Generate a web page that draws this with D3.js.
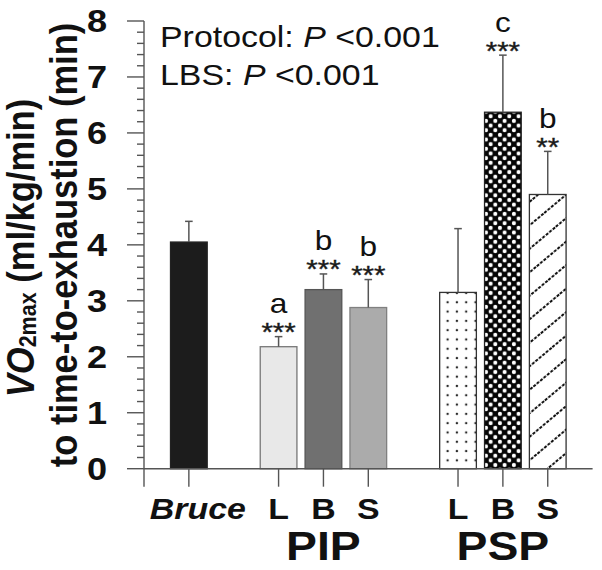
<!DOCTYPE html>
<html><head><meta charset="utf-8">
<script src="https://cdn.jsdelivr.net/npm/d3@7"></script>
<style>html,body{margin:0;padding:0;background:#fff}svg{display:block}</style>
</head><body><svg id="c" width="602" height="570"></svg>
<script>
// ---- data ----
const slots = ["Bruce","gap1","PIP-L","PIP-B","PIP-S","gap2","PSP-L","PSP-B","PSP-S"];
const barKeys = ["Bruce","PIP-L","PIP-B","PIP-S","PSP-L","PSP-B","PSP-S"];
const barLabels = ["Bruce","L","B","S","L","B","S"];
const means = [4.05, 2.18, 3.20, 2.88, 3.15, 6.37, 4.90];
const errs  = [0.37, 0.18, 0.28, 0.50, 1.14, 1.02, 0.77];
const letters = ["", "a", "b", "b", "", "c", "b"];
const stars = ["", "***", "***", "***", "", "***", "**"];
const groupLabels = ["PIP","PSP"];
const groupCenters = ["PIP-B","PSP-B"];
const yTicks = [0,1,2,3,4,5,6,7,8];
const statLines = [["Protocol: ","P"," <0.001"],["LBS: ","P"," <0.001"]];

// ---- layout ----
const svg = d3.select("#c");
const FONT = "'Liberation Sans', Arial, Helvetica, sans-serif";
const SX = 1.13;
const x = d3.scalePoint().domain(slots).range([144, 592.6]).padding(1);
const y = d3.scaleLinear().domain([0, 8]).range([468.7, 21]);
const bw = 36.7;

// patterns
const defs = svg.append("defs");
const pDots = defs.append("pattern").attr("id","dots").attr("patternUnits","userSpaceOnUse")
  .attr("width",9.3).attr("height",9.3).attr("x",443).attr("y",0);
pDots.append("rect").attr("width",9.3).attr("height",9.3).attr("fill","#fff");
pDots.append("circle").attr("cx",4.6).attr("cy",4.6).attr("r",1.2).attr("fill","#2a2a2a");
const pChk = defs.append("pattern").attr("id","chk").attr("patternUnits","userSpaceOnUse")
  .attr("width",9.3).attr("height",9.3).attr("x",486).attr("y",0);
pChk.append("rect").attr("width",9.3).attr("height",9.3).attr("fill","#050505");
[[0,0],[9.3,0],[0,9.3],[9.3,9.3],[4.65,4.65]].forEach(([cx,cy])=>
  pChk.append("circle").attr("cx",cx).attr("cy",cy).attr("r",2.05).attr("fill","#fff"));
const pHatch = defs.append("pattern").attr("id","hatch").attr("patternUnits","userSpaceOnUse")
  .attr("width",40).attr("height",18).attr("patternTransform","rotate(-40)");
pHatch.append("rect").attr("width",40).attr("height",18).attr("fill","#fff");
pHatch.append("line").attr("x1",0).attr("x2",40).attr("y1",9).attr("y2",9)
  .attr("stroke","#111").attr("stroke-width",2).attr("stroke-dasharray","3,1.5");

const fills = ["#1c1c1c","#e8e8e8","#707070","#ababab","url(#dots)","url(#chk)","url(#hatch)"];
const strokes = ["#222","#777","#555","#808080","#333","#222","#333"];

function txt(px, py, opts){
  const rot = opts.rotate ? " rotate(-90)" : "";
  return svg.append("text")
    .attr("transform", `translate(${px},${py}) scale(${SX},1)${rot}`)
    .attr("font-family", FONT)
    .attr("font-size", opts.size)
    .attr("font-weight", opts.bold ? "bold" : "normal")
    .attr("font-style", opts.italic ? "italic" : "normal")
    .attr("text-anchor", opts.anchor || "start")
    .attr("fill", opts.fill || "#111");
}

const axisColor = "#555";

// bars
const data = barKeys.map((k,i)=>({k, i, m: means[i], e: errs[i]}));
svg.append("g").selectAll("rect").data(data).join("rect")
  .attr("x", d => x(d.k) - bw/2)
  .attr("y", d => y(d.m))
  .attr("width", bw)
  .attr("height", d => y(0) - y(d.m))
  .attr("fill", d => fills[d.i])
  .attr("stroke", d => strokes[d.i])
  .attr("stroke-width", 1.3);

// error bars
const eg = svg.append("g").attr("stroke", "#555").attr("stroke-width", 1.5);
data.forEach(d => {
  eg.append("line").attr("x1", x(d.k)).attr("x2", x(d.k)).attr("y1", y(d.m)).attr("y2", y(d.m + d.e));
  eg.append("line").attr("x1", x(d.k) - 3.8).attr("x2", x(d.k) + 3.8).attr("y1", y(d.m + d.e)).attr("y2", y(d.m + d.e));
});

// y axis
const ya = svg.append("g").attr("stroke", axisColor).attr("stroke-width", 1.4);
ya.append("line").attr("x1", 144).attr("x2", 144).attr("y1", y(8)).attr("y2", y(0) + 18);
d3.range(0, 40).map(v => v / 5).concat([8]).forEach(v => {
  const major = Math.abs(v - Math.round(v)) < 1e-6;
  ya.append("line").attr("x1", major ? 127 : 137).attr("x2", 144).attr("y1", y(v)).attr("y2", y(v));
});
yTicks.forEach(v => {
  txt(107, y(v), {size: 32, bold: true, anchor: "end"})
    .attr("dominant-baseline", "central").text(v);
});

// x axis
const xa = svg.append("g").attr("stroke", axisColor).attr("stroke-width", 1.4);
xa.append("line").attr("x1", 144).attr("x2", 592.6).attr("y1", y(0)).attr("y2", y(0));
barKeys.forEach(k => xa.append("line").attr("x1", x(k)).attr("x2", x(k)).attr("y1", y(0)).attr("y2", y(0) + 18));

// x labels
barLabels.forEach((lab, i) => {
  const isBruce = i === 0;
  txt(x(barKeys[i]) + (isBruce ? 9 : 0), 518.5, {size: 30, bold: true, italic: isBruce, anchor: "middle"}).text(lab);
});
groupLabels.forEach((lab, i) => {
  txt(x(groupCenters[i]), 559.5, {size: 41, bold: true, anchor: "middle"}).text(lab);
});

// significance annotations
data.forEach(d => {
  const top = y(d.m + d.e);
  if (stars[d.i]) txt(x(d.k), top + 4.5, {size: 26, anchor: "middle", fill: "#1a1a1a"})
    .attr("stroke", "#1a1a1a").attr("stroke-width", 0.4).text(stars[d.i]);
  if (letters[d.i]) txt(x(d.k), top - 23.5, {size: 28, anchor: "middle"}).text(letters[d.i]);
});

// stats text
statLines.forEach((parts, li) => {
  const t = txt(160, li === 0 ? 46.7 : 84.5, {size: 30});
  t.append("tspan").text(parts[0]);
  t.append("tspan").attr("font-style", "italic").text(parts[1]);
  t.append("tspan").text(parts[2]);
});

// y axis title (two lines)
const t1 = txt(34, 248, {size: 34.5, bold: true, anchor: "middle", rotate: true});
t1.append("tspan").attr("font-style", "italic").text("VO");
t1.append("tspan").attr("font-size", 21.5).attr("dy", 2).text("2max");
t1.append("tspan").attr("dy", -2).text(" (ml/kg/min)");
txt(77, 245, {size: 34.5, bold: true, anchor: "middle", rotate: true}).text("to time-to-exhaustion (min)");
</script></body></html>
